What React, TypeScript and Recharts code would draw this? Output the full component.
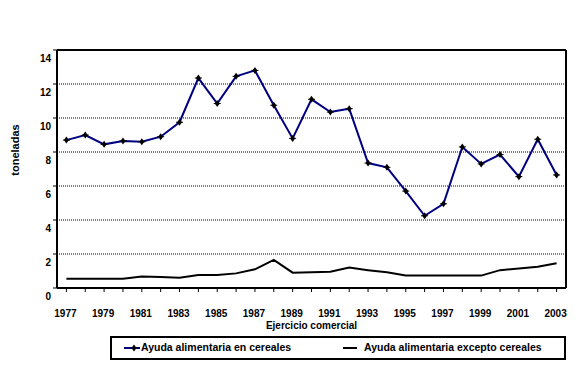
import { LineChart, Line, XAxis, YAxis, CartesianGrid, Legend, ReferenceLine } from 'recharts'

const years = [
  '1977', '1978', '1979', '1980', '1981', '1982', '1983', '1984', '1985', '1986',
  '1987', '1988', '1989', '1990', '1991', '1992', '1993', '1994', '1995', '1996',
  '1997', '1998', '1999', '2000', '2001', '2002', '2003',
]
const cereales = [
  8.7, 9.0, 8.45, 8.65, 8.6, 8.9, 9.75, 12.35, 10.85, 12.45,
  12.8, 10.75, 8.8, 11.1, 10.35, 10.55, 7.35, 7.1, 5.7, 4.25,
  4.95, 8.3, 7.3, 7.85, 6.55, 8.75, 6.65,
]
const exceptoCereales = [
  0.55, 0.55, 0.55, 0.55, 0.67, 0.65, 0.6, 0.76, 0.76, 0.86,
  1.1, 1.65, 0.9, 0.93, 0.96, 1.2, 1.05, 0.92, 0.73, 0.73,
  0.73, 0.73, 0.73, 1.05, 1.14, 1.25, 1.45,
]
const yTicks = [0, 2, 4, 6, 8, 10, 12, 14]

const data = years.map((y, i) => ({ year: y, cer: cereales[i], exc: exceptoCereales[i] }))

const font = '"Liberation Sans", Arial, sans-serif'

function Marker(props: any) {
  const { cx, cy } = props
  if (cx == null || cy == null) return null
  return (
    <g>
      <path d={`M${cx},${cy - 3.5} L${cx + 2.5},${cy} L${cx},${cy + 3.5} L${cx - 2.5},${cy} Z`} fill="#000" />
      <path d={`M${cx - 3.5},${cy} L${cx + 3.5},${cy}`} stroke="#000" strokeWidth={1} />
    </g>
  )
}

function YTick(props: any) {
  const { x, y, payload } = props
  return (
    <text x={x} y={y + 12} textAnchor="end" fontSize={10} fontWeight="bold" fontFamily={font} fill="#000">
      {payload.value}
    </text>
  )
}

function XTick(props: any) {
  const { x, y, payload, index } = props
  if (index % 2 !== 0) return null
  return (
    <text x={x - 1} y={y + 23} textAnchor="middle" fontSize={10} fontWeight="bold" fontFamily={font} fill="#000">
      {payload.value}
    </text>
  )
}

function YTitle() {
  return (
    <text x={0} y={0} transform="translate(19,150) rotate(-90)" textAnchor="middle" fontSize={11} fontWeight="bold" fontFamily={font} fill="#000">
      toneladas
    </text>
  )
}

function LegendBox() {
  return (
    <div style={{
      width: 452, height: 20, border: '2px solid #000', boxSizing: 'content-box',
      fontFamily: font, fontWeight: 'bold', fontSize: 10.5, color: '#000', position: 'relative',
      background: '#fff',
    }}>
      <svg width={30} height={20} style={{ position: 'absolute', left: 10, top: 0 }}>
        <line x1={2} y1={10} x2={18} y2={10} stroke="#000080" strokeWidth={2} />
        <Marker cx={12} cy={10} />
      </svg>
      <span style={{ position: 'absolute', left: 29, top: 3 }}>Ayuda alimentaria en cereales</span>
      <svg width={20} height={20} style={{ position: 'absolute', left: 230, top: 0 }}>
        <line x1={1} y1={10} x2={15} y2={10} stroke="#000" strokeWidth={2} />
      </svg>
      <span style={{ position: 'absolute', left: 252, top: 3 }}>Ayuda alimentaria excepto cereales</span>
    </div>
  )
}

export default function App() {
  return (
    <div style={{ position: 'absolute', left: 0, top: 0, background: '#fff' }}>
      <LineChart width={578} height={369} data={data} margin={{ top: 50, right: 0, left: 0, bottom: 36 }}>
        <CartesianGrid yAxisId="l" vertical={false} stroke="#000" strokeDasharray="1 1" />
        <XAxis
          dataKey="year"
          interval={0}
          padding={{ left: 9.4, right: 9.4 }}
          height={45}
          axisLine={{ stroke: '#000', strokeWidth: 2 }}
          tickLine={{ stroke: '#000' }}
          tickSize={4}
          tick={<XTick />}
          label={{ value: 'Ejercicio comercial', position: 'insideTop', offset: 34, fontSize: 10, fontWeight: 'bold', fontFamily: font, fill: '#000' }}
        />
        <YAxis
          yAxisId="l"
          domain={[0, 14]}
          ticks={yTicks}
          width={57}
          axisLine={{ stroke: '#000', strokeWidth: 2 }}
          tickLine={{ stroke: '#000' }}
          tickSize={4}
          tick={<YTick />}
          label={<YTitle />}
        />
        <YAxis yAxisId="r" orientation="right" width={12} domain={[0, 14]} tick={false} tickLine={false} axisLine={{ stroke: '#000', strokeWidth: 2 }} />
        <ReferenceLine yAxisId="l" y={14} stroke="#000" strokeWidth={2} />
        <Line yAxisId="l" type="linear" dataKey="exc" stroke="#000" strokeWidth={2} dot={false} isAnimationActive={false} />
        <Line yAxisId="l" type="linear" dataKey="cer" stroke="#000080" strokeWidth={2} dot={<Marker />} activeDot={false} isAnimationActive={false} />
        <Legend
          layout="horizontal"
          verticalAlign="middle"
          align="center"
          content={<LegendBox />}
          wrapperStyle={{ position: 'absolute', left: 110, top: 336, width: 456 }}
        />
      </LineChart>
    </div>
  )
}
